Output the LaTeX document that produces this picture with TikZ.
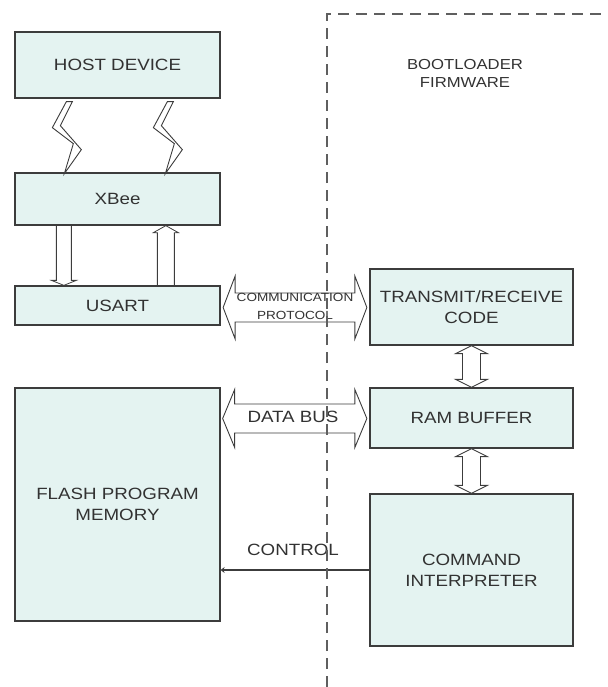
\documentclass[tikz,border=0pt]{standalone}
\usepackage{fontspec}
\setmainfont{Liberation Sans}[FakeStretch=1.15]
\usetikzlibrary{calc,arrows.meta}
\definecolor{boxfill}{RGB}{228,243,241}
\definecolor{edge}{RGB}{60,60,60}
\definecolor{txt}{RGB}{50,50,50}
\definecolor{dashc}{RGB}{95,95,95}
% horizontal double block arrow: #1 left tip, #2 right tip, #3 half shaft, #4 half head, #5 head length
\newcommand\hdblarrow[5]{%
  \draw[blockarrow] (#1) -- ($(#1)+(#5,-#4)$) -- ($(#1)+(#5,-#3)$) -- ($(#2)+(-#5,-#3)$)
    -- ($(#2)+(-#5,-#4)$) -- (#2) -- ($(#2)+(-#5,#4)$) -- ($(#2)+(-#5,#3)$)
    -- ($(#1)+(#5,#3)$) -- ($(#1)+(#5,#4)$) -- cycle;}
% vertical double block arrow: #1 top tip, #2 bottom tip
\newcommand\vdblarrow[5]{%
  \draw[blockarrow] (#1) -- ($(#1)+(#4,#5)$) -- ($(#1)+(#3,#5)$) -- ($(#2)+(#3,-#5)$)
    -- ($(#2)+(#4,-#5)$) -- (#2) -- ($(#2)+(-#4,-#5)$) -- ($(#2)+(-#3,-#5)$)
    -- ($(#1)+(-#3,#5)$) -- ($(#1)+(-#4,#5)$) -- cycle;}
% lightning bolt starting at #1
\newcommand\lbolt[1]{%
  \draw[bolt] (#1) -- ($(#1)+(-14,26)$) -- ($(#1)+(7,42)$) -- ($(#1)+(-2,72)$)
    -- ($(#1)+(15,48)$) -- ($(#1)+(-6,24)$) -- ($(#1)+(6,0)$) -- cycle;}
\begin{document}
\begin{tikzpicture}[x=1pt,y=-1pt,
  box/.style={draw=edge, line width=1.3pt, fill=boxfill, inner sep=0pt, text=txt,
    align=center, font=\fontsize{16.3}{21}\selectfont},
  lbox/.style={box, minimum width=205pt},
  rbox/.style={box, minimum width=203pt},
  blockarrow/.style={draw=edge, line width=0.9pt, fill=white, line join=miter},
  thinarrow/.style={draw=edge, line width=0.8pt},
  bolt/.style={draw=edge, line width=0.9pt, fill=white, line join=miter},
  lbl/.style={text=txt, align=center, inner sep=0pt, font=\fontsize{16.3}{21}\selectfont},
  smalllbl/.style={text=txt, align=center, inner sep=0pt, font=\fontsize{11.8}{18}\selectfont},
  ctrl/.style={draw=edge, line width=1.1pt},
  border/.style={draw=dashc, line width=1.2pt, dash pattern=on 11pt off 7pt}]
\useasboundingbox (0,0) rectangle (607,687);

% boxes
\node[lbox, minimum height=66pt]  (host)  at (117.5,65)    {HOST DEVICE};
\node[lbox, minimum height=52pt]  (xbee)  at (117.5,199)   {XBee};
\node[lbox, minimum height=39pt]  (usart) at (117.5,305.5) {USART};
\node[lbox, minimum height=233pt] (flash) at (117.5,504.5) {FLASH PROGRAM\\MEMORY};
\node[rbox, minimum height=76pt]  (tx)    at (471.5,307)   {TRANSMIT/RECEIVE\\CODE};
\node[rbox, minimum height=60pt]  (ram)   at (471.5,418)   {RAM BUFFER};
\node[rbox, minimum height=152pt] (cmd)   at (471.5,570)   {COMMAND\\INTERPRETER};

% lightning bolts host <-> xbee
\coordinate (b1) at ($(host.south west)+(52,3)$);
\coordinate (b2) at ($(b1)+(101,0)$);
\lbolt{b1}
\lbolt{b2}

% xbee -> usart (down) and usart -> xbee (up)
\coordinate (d1) at ($(xbee.south west)+(49.5,0)$);
\coordinate (d2) at (d1 |- usart.north);
\draw[thinarrow] ($(d1)+(-7.5,0)$) -- ($(d2)+(-7.5,-5)$) -- ($(d2)+(-12.5,-5)$) -- (d2)
  -- ($(d2)+(12.5,-5)$) -- ($(d2)+(7.5,-5)$) -- ($(d1)+(7.5,0)$);
\coordinate (u1) at ($(usart.north west)+(151.5,0)$);
\coordinate (u2) at (u1 |- xbee.south);
\draw[thinarrow] ($(u1)+(-8.5,0)$) -- ($(u2)+(-8.5,7)$) -- ($(u2)+(-12.5,7)$) -- (u2)
  -- ($(u2)+(12.5,7)$) -- ($(u2)+(8.5,7)$) -- ($(u1)+(8.5,0)$);

% communication protocol arrow usart <-> tx
\coordinate (cpL) at ($(usart.east |- tx.west)+(2.5,0.5)$);
\coordinate (cpR) at ($(tx.west)+(-2.5,0.5)$);
\hdblarrow{cpL}{cpR}{14.5}{31.5}{12}
\node[smalllbl] (cp) at (295,306) {COMMUNICATION\\PROTOCOL};

% data bus arrow flash <-> ram
\coordinate (dbL) at ($(flash.east |- ram.west)+(2,0.5)$);
\coordinate (dbR) at ($(ram.west)+(-2.5,0.5)$);
\hdblarrow{dbL}{dbR}{14.5}{29}{12}
\node[lbl] (db) at (293,417) {DATA BUS};

% tx <-> ram, ram <-> cmd
\vdblarrow{tx.south}{ram.north}{9}{16}{8}
\vdblarrow{ram.south}{cmd.north}{9}{16}{8}

% control line
\draw[ctrl, -{Stealth[length=4pt,width=6pt]}] (cmd.west) -- (cmd.west -| flash.east);
\node[lbl] (ctl) at (293,550) {CONTROL};

% bootloader boundary
\coordinate (bt) at (327,14);
\coordinate (bb) at (327,687);
\coordinate (br) at (607,14);
\draw[border] (bb) -- (bt) -- (br);
\node[lbl, font=\fontsize{14.5}{18}\selectfont] (bl) at (465,73) {BOOTLOADER\\FIRMWARE};
\end{tikzpicture}
\end{document}
